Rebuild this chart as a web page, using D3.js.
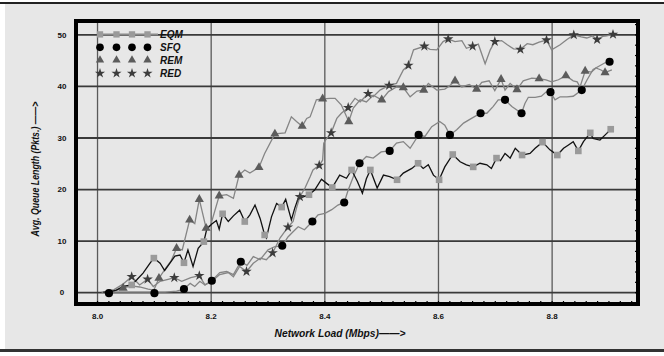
<!DOCTYPE html>
<html>
<head>
<meta charset="utf-8">
<script src="https://cdn.jsdelivr.net/npm/d3@7"></script>
<style>
  body { margin: 0; background: #fff; }
  svg { display: block; }
  .tick text { font-family: "Liberation Sans", Arial, sans-serif; font-weight: bold; font-size: 8px; fill: #111; }
  .title { font-family: "Liberation Sans", Arial, sans-serif; font-weight: bold; font-style: italic; fill: #111; }
</style>
</head>
<body>
<div id="chart"></div>
<script>
// ... chart data

const xTicks = [8.0, 8.2, 8.4, 8.6, 8.8];
const xTickLabels = ['8.0', '8.2', '8.4', '8.6', '8.8'];
const yTicks = [0, 10, 20, 30, 40, 50];
const seriesNames = ['EQM', 'SFQ', 'REM', 'RED'];

const eqmLine = [[8.011,0],[8.02,0],[8.034,0.4],[8.046,1.1],[8.061,1.4],[8.07,2.4],[8.081,3.7],[8.093,5.6],[8.100,6.6],[8.111,5.6],[8.119,4.2],[8.128,5.6],[8.137,7.0],[8.146,7.2],[8.153,5.7],[8.160,8.2],[8.169,5.0],[8.178,8.5],[8.188,9.8],[8.193,12.2],[8.202,13.2],[8.210,13.9],[8.215,12.2],[8.221,15.2],[8.231,13.7],[8.240,14.8],[8.251,15.9],[8.260,13.7],[8.269,15.0],[8.278,16.9],[8.287,14.3],[8.295,11.1],[8.298,10.5],[8.307,14.6],[8.316,17.2],[8.325,16.5],[8.332,18.0],[8.342,14.0],[8.348,16.3],[8.354,18.2],[8.363,18.5],[8.373,18.9],[8.383,19.8],[8.395,21.9],[8.404,21.1],[8.414,20.3],[8.427,22.7],[8.439,22.1],[8.448,23.7],[8.458,21.5],[8.467,19.2],[8.474,22.0],[8.481,23.7],[8.493,20.2],[8.504,22.7],[8.515,22.4],[8.528,21.8],[8.539,23.1],[8.554,24.0],[8.565,25.0],[8.574,24.0],[8.583,24.7],[8.592,22.7],[8.602,21.8],[8.612,24.3],[8.626,26.7],[8.639,25.3],[8.650,24.7],[8.662,24.3],[8.674,25.0],[8.686,24.7],[8.694,24.0],[8.703,26.0],[8.710,25.5],[8.718,26.9],[8.727,26.0],[8.736,27.9],[8.748,26.6],[8.762,26.9],[8.771,27.9],[8.784,29.1],[8.797,27.6],[8.810,26.6],[8.821,27.9],[8.829,28.5],[8.838,29.2],[8.847,27.4],[8.856,29.2],[8.868,30.9],[8.873,29.8],[8.885,29.5],[8.897,30.8],[8.904,31.6]];
const eqmMarks = [[8.061,1.4],[8.100,6.6],[8.153,5.7],[8.188,9.8],[8.221,15.2],[8.260,13.7],[8.295,11.1],[8.325,16.5],[8.373,18.9],[8.414,20.3],[8.448,23.7],[8.481,23.7],[8.528,21.8],[8.565,25.0],[8.602,21.8],[8.626,26.7],[8.662,24.3],[8.703,26.0],[8.748,26.6],[8.784,29.1],[8.810,26.6],[8.847,27.4],[8.868,30.9],[8.904,31.6]];

const sfqLine = [[8.008,0],[8.021,0],[8.05,0],[8.08,0],[8.101,0],[8.12,0],[8.14,0.2],[8.153,0.6],[8.164,1.7],[8.172,1.1],[8.181,2.1],[8.190,1.4],[8.202,2.2],[8.216,3.8],[8.228,4.0],[8.240,3.4],[8.253,5.9],[8.264,5.2],[8.275,6.9],[8.287,6.3],[8.301,8.2],[8.312,8.8],[8.326,9.0],[8.336,10.7],[8.345,11.7],[8.354,12.7],[8.365,12.1],[8.379,13.7],[8.389,15.0],[8.401,15.3],[8.413,16.0],[8.424,16.9],[8.435,17.4],[8.442,19.8],[8.451,22.4],[8.462,25.0],[8.474,26.3],[8.486,26.0],[8.500,27.2],[8.515,27.4],[8.527,28.9],[8.539,29.2],[8.551,27.9],[8.566,30.5],[8.577,30.2],[8.589,32.1],[8.603,33.1],[8.612,32.4],[8.621,30.5],[8.633,31.5],[8.645,32.8],[8.659,33.7],[8.675,34.7],[8.686,34.7],[8.697,36.0],[8.706,37.3],[8.718,37.3],[8.730,36.0],[8.747,34.7],[8.753,36.6],[8.759,37.8],[8.771,37.8],[8.782,38.0],[8.791,38.9],[8.798,38.8],[8.806,37.3],[8.815,37.9],[8.827,37.9],[8.838,38.0],[8.853,39.2],[8.862,41.1],[8.873,43.2],[8.894,44.5],[8.902,44.7]];
const sfqMarks = [[8.021,-0.2],[8.101,-0.2],[8.153,0.6],[8.202,2.2],[8.253,5.9],[8.326,9.0],[8.379,13.7],[8.435,17.4],[8.462,25.0],[8.515,27.4],[8.566,30.5],[8.621,30.5],[8.675,34.7],[8.718,37.3],[8.747,34.7],[8.798,38.8],[8.853,39.2],[8.902,44.7]];

const remLine = [[8.012,0],[8.03,0.2],[8.046,0.8],[8.06,1.2],[8.075,1.0],[8.09,0.6],[8.1,0.4],[8.109,2.7],[8.12,4.5],[8.13,6.0],[8.14,8.5],[8.15,8.2],[8.163,14.0],[8.172,13.3],[8.180,18.0],[8.192,12.4],[8.20,13.0],[8.215,18.7],[8.228,18.9],[8.240,18.2],[8.250,22.7],[8.260,23.7],[8.269,23.1],[8.285,24.2],[8.295,26.9],[8.313,30.7],[8.331,30.9],[8.342,34.0],[8.351,33.1],[8.361,32.2],[8.369,33.7],[8.375,34.0],[8.386,37.3],[8.397,37.5],[8.410,37.6],[8.419,37.6],[8.430,36.3],[8.443,33.1],[8.451,35.7],[8.463,37.3],[8.474,36.9],[8.486,38.2],[8.501,37.3],[8.513,38.9],[8.527,39.8],[8.539,39.7],[8.551,37.9],[8.563,39.0],[8.575,39.2],[8.583,40.5],[8.598,39.2],[8.612,39.4],[8.620,40.0],[8.630,41.0],[8.642,39.8],[8.655,40.3],[8.668,39.4],[8.677,40.7],[8.690,41.0],[8.700,39.1],[8.711,41.3],[8.718,39.2],[8.727,40.5],[8.739,39.3],[8.750,41.0],[8.765,41.5],[8.778,41.4],[8.790,41.2],[8.800,40.8],[8.812,41.2],[8.825,42.0],[8.838,41.0],[8.845,40.8],[8.850,39.8],[8.859,42.9],[8.870,42.7],[8.878,43.5],[8.887,43.1],[8.894,42.6],[8.906,43.1]];
const remMarks = [[8.046,0.8],[8.109,2.7],[8.140,8.5],[8.163,14.0],[8.180,18.0],[8.192,12.4],[8.215,18.7],[8.250,22.7],[8.285,24.2],[8.313,30.7],[8.361,32.2],[8.397,37.5],[8.443,33.1],[8.501,37.3],[8.539,39.7],[8.575,39.2],[8.630,41.0],[8.668,39.4],[8.711,41.3],[8.739,39.3],[8.778,41.4],[8.825,42.0],[8.859,42.9],[8.894,42.6]];

const redLine = [[8.012,0],[8.03,0.5],[8.045,1.5],[8.061,3.0],[8.075,1.4],[8.089,2.5],[8.099,1.1],[8.111,2.1],[8.125,2.5],[8.136,2.8],[8.149,2.1],[8.165,2.8],[8.180,3.2],[8.190,1.4],[8.202,2.1],[8.216,3.4],[8.231,3.8],[8.240,3.0],[8.251,5.0],[8.263,4.0],[8.275,5.6],[8.287,6.6],[8.298,6.3],[8.309,7.6],[8.322,10.5],[8.336,12.6],[8.345,13.7],[8.351,16.3],[8.357,18.5],[8.366,20.2],[8.375,22.4],[8.380,23.7],[8.391,24.6],[8.397,25.6],[8.399,28.9],[8.404,29.8],[8.412,30.9],[8.422,33.7],[8.430,34.7],[8.442,35.8],[8.454,37.6],[8.463,36.9],[8.477,38.5],[8.486,37.9],[8.498,39.2],[8.514,40.1],[8.527,40.5],[8.539,43.1],[8.548,44.0],[8.557,47.0],[8.576,47.7],[8.586,47.1],[8.598,47.0],[8.609,48.6],[8.618,49.1],[8.630,48.6],[8.642,48.8],[8.650,47.3],[8.661,47.7],[8.671,48.1],[8.683,44.3],[8.692,47.0],[8.700,48.6],[8.712,48.8],[8.722,48.0],[8.733,47.2],[8.745,47.1],[8.757,48.2],[8.767,48.0],[8.778,48.5],[8.791,48.9],[8.800,47.0],[8.815,48.0],[8.827,49.0],[8.839,49.9],[8.852,49.5],[8.862,49.3],[8.872,49.7],[8.880,49.0],[8.890,49.6],[8.897,49.7],[8.908,50.0]];
const redMarks = [[8.061,3.0],[8.089,2.5],[8.136,2.8],[8.180,3.2],[8.263,4.0],[8.309,7.6],[8.336,12.6],[8.357,18.5],[8.391,24.6],[8.412,30.9],[8.442,35.8],[8.477,38.5],[8.514,40.1],[8.548,44.0],[8.576,47.7],[8.618,49.1],[8.661,47.7],[8.700,48.6],[8.745,47.1],[8.791,48.9],[8.839,49.9],[8.880,49.0],[8.908,50.0]];

// ... layout

const W = 664, H = 356;
const plot = { left: 76, right: 638, top: 21, bottom: 304 };

const x = d3.scaleLinear().domain([7.963, 8.952]).range([plot.left, plot.right]);
const y = d3.scaleLinear().domain([-2.3, 52.6]).range([plot.bottom, plot.top]);

const svg = d3.select('#chart').append('svg')
    .attr('width', W)
    .attr('height', H);

// page background with dark rules top and bottom
svg.append('rect').attr('x', 0).attr('y', 0).attr('width', W).attr('height', H).attr('fill', '#fff');
svg.append('rect').attr('x', 5).attr('y', 4).attr('width', W - 5).attr('height', 346).attr('fill', '#e7e7e7');
svg.append('rect').attr('x', 0).attr('y', 2).attr('width', W).attr('height', 2).attr('fill', '#222');
svg.append('rect').attr('x', 0).attr('y', 349).attr('width', W).attr('height', 3).attr('fill', '#333');

// ... grid

svg.append('g')
    .attr('class', 'grid')
    .attr('transform', 'translate(0,' + plot.bottom + ')')
    .call(d3.axisBottom(x).tickValues(xTicks).tickSize(-(plot.bottom - plot.top)).tickFormat(''))
    .call(g => g.select('.domain').remove())
    .call(g => g.selectAll('line').attr('stroke', '#5a5a5a').attr('stroke-width', 1.3));

svg.append('g')
    .attr('class', 'grid')
    .attr('transform', 'translate(' + plot.left + ',0)')
    .call(d3.axisLeft(y).tickValues(yTicks).tickSize(-(plot.right - plot.left)).tickFormat(''))
    .call(g => g.select('.domain').remove())
    .call(g => g.selectAll('line').attr('stroke', '#3a3a3a').attr('stroke-width', 1.8));

// ... minor ticks on the frame

const minorX = d3.range(8.0, 8.95, 0.02);
svg.append('g')
    .attr('transform', 'translate(0,' + plot.bottom + ')')
    .call(d3.axisTop(x).tickValues(minorX).tickSize(3).tickFormat(''))
    .call(g => g.select('.domain').remove())
    .call(g => g.selectAll('line').attr('stroke', '#000').attr('stroke-width', 1.2));

svg.append('g')
    .attr('transform', 'translate(' + plot.right + ',0)')
    .call(d3.axisLeft(y).tickValues(d3.range(-2, 53, 2)).tickSize(3).tickFormat(''))
    .call(g => g.select('.domain').remove())
    .call(g => g.selectAll('line').attr('stroke', '#000').attr('stroke-width', 1.2));

// ... tick labels

svg.append('g')
    .attr('transform', 'translate(0,' + (plot.bottom + 6) + ')')
    .call(d3.axisBottom(x).tickValues(xTicks).tickSize(0).tickFormat((d, i) => xTickLabels[i]))
    .call(g => g.select('.domain').remove());

svg.append('g')
    .attr('transform', 'translate(62,0)')
    .call(d3.axisLeft(y).tickValues(yTicks).tickSize(0).tickFormat(d3.format('d')))
    .call(g => g.select('.domain').remove())
    .call(g => g.selectAll('text').attr('text-anchor', 'middle').attr('x', 0).attr('dy', '0.35em'));

// ... series lines

const line = d3.line().x(d => x(d[0])).y(d => y(d[1]));

const grayLines = [remLine, redLine, sfqLine];
svg.append('g').selectAll('path')
    .data(grayLines)
    .join('path')
    .attr('d', line)
    .attr('fill', 'none')
    .attr('stroke', '#858585')
    .attr('stroke-width', 1.3);

svg.append('path')
    .datum(eqmLine)
    .attr('d', line)
    .attr('fill', 'none')
    .attr('stroke', '#111')
    .attr('stroke-width', 1.3);

// ... markers

function marks(data, type, size, fill) {
    svg.append('g').selectAll('path')
        .data(data)
        .join('path')
        .attr('transform', d => 'translate(' + x(d[0]) + ',' + y(d[1]) + ')')
        .attr('d', d3.symbol().type(type).size(size))
        .attr('fill', fill);
}

marks(remMarks, d3.symbolTriangle, 36, '#5c5c5c');
marks(redMarks, d3.symbolStar, 34, '#3c3c3c');
marks(sfqMarks, d3.symbolCircle, 52, '#000');
marks(eqmMarks, d3.symbolSquare, 44, '#9a9a9a');

// ... legend

const legendX = [100, 116.5, 132, 147.5];
const legendY = [34.4, 47.3, 60, 73.3];
const legendSym = [d3.symbolSquare, d3.symbolCircle, d3.symbolTriangle, d3.symbolStar];
const legendSize = [40, 46, 30, 32];
const legendFill = ['#9a9a9a', '#000', '#5c5c5c', '#3c3c3c'];

const legend = svg.append('g');
legend.append('line')
    .attr('x1', legendX[0]).attr('x2', 158)
    .attr('y1', legendY[0]).attr('y2', legendY[0])
    .attr('stroke', '#8a8a8a').attr('stroke-width', 1.8);

seriesNames.forEach((name, i) => {
    legend.selectAll(null)
        .data(legendX)
        .join('path')
        .attr('transform', d => 'translate(' + d + ',' + legendY[i] + ')')
        .attr('d', d3.symbol().type(legendSym[i]).size(legendSize[i]))
        .attr('fill', legendFill[i]);
    legend.append('text')
        .attr('class', 'title')
        .attr('x', 160)
        .attr('y', legendY[i] + 3.6)
        .attr('font-size', '10px')
        .text(name);
});

// ... axis titles

svg.append('text')
    .attr('class', 'title')
    .attr('x', 340)
    .attr('y', 336.5)
    .attr('text-anchor', 'middle')
    .attr('font-size', '10px')
    .attr('textLength', 131)
    .attr('lengthAdjust', 'spacingAndGlyphs')
    .text('Network Load (Mbps)\u2014\u2014>');

svg.append('text')
    .attr('class', 'title')
    .attr('transform', 'translate(38.5,169) rotate(-90)')
    .attr('text-anchor', 'middle')
    .attr('font-size', '10px')
    .attr('textLength', 135)
    .attr('lengthAdjust', 'spacingAndGlyphs')
    .text('Avg. Queue Length (Pkts.) \u2014\u2014>');

// ... outline

svg.append('rect')
    .attr('x', plot.left)
    .attr('y', plot.top)
    .attr('width', plot.right - plot.left)
    .attr('height', plot.bottom - plot.top)
    .attr('fill', 'none')
    .attr('stroke', '#000')
    .attr('stroke-width', 4);
</script>
</body>
</html>
